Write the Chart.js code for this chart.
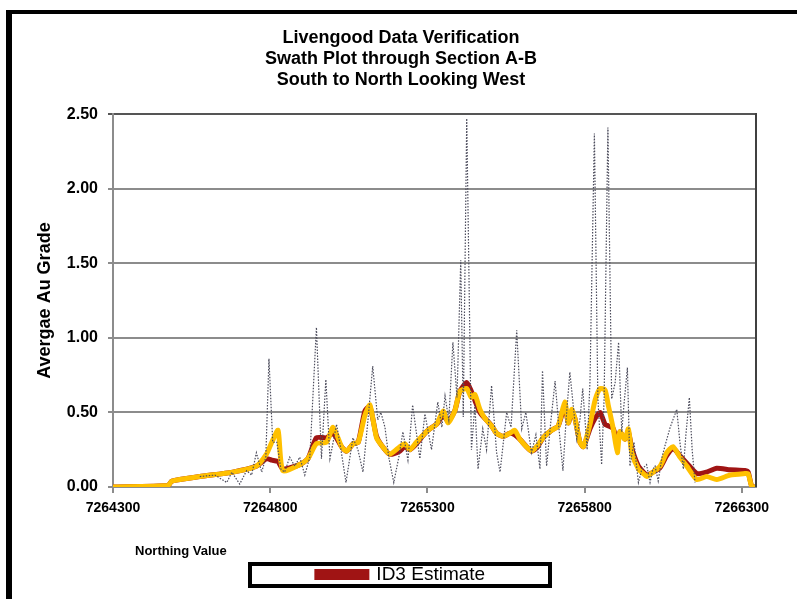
<!DOCTYPE html>
<html>
<head>
<meta charset="utf-8">
<script src="https://cdn.jsdelivr.net/npm/chart.js@4.4.1/dist/chart.umd.min.js"></script>
<style>
  html, body { margin: 0; padding: 0; background: #fff; overflow: hidden; }
  #wrap { position: relative; width: 797px; height: 599px; }
  #frame { position: absolute; left: 6px; top: 10px; width: 900px; height: 700px;
           border-left: 6px solid #000; border-top: 4px solid #000; pointer-events: none; }
</style>
</head>
<body>
<div id="wrap">
  <canvas id="chart" width="797" height="599"></canvas>
  <div id="frame"></div>
</div>
<script>
// Northing positions for the block model estimates
const estNorthing = [7264300, 7264475, 7264487, 7264576, 7264681, 7264756, 7264788, 7264805, 7264825, 7264840,
  7264894, 7264920, 7264947, 7264979, 7265000, 7265027, 7265043, 7265064, 7265080, 7265101,
  7265117, 7265138, 7265154, 7265180, 7265212, 7265228, 7265244, 7265265, 7265292, 7265308,
  7265329, 7265350, 7265366, 7265387, 7265403, 7265425, 7265440, 7265451, 7265467, 7265483,
  7265504, 7265520, 7265541, 7265562, 7265578, 7265594, 7265615, 7265631, 7265647, 7265668,
  7265695, 7265716, 7265737, 7265748, 7265759, 7265769, 7265785, 7265796, 7265817, 7265833,
  7265849, 7265865, 7265875, 7265891, 7265904, 7265912, 7265928, 7265939, 7265950, 7265971,
  7265987, 7265997, 7266018, 7266040, 7266061, 7266081, 7266103, 7266125, 7266157, 7266188,
  7266220, 7266263, 7266310, 7266320, 7266332, 7266345];

const id3Grade = [0.00, 0.01, 0.04, 0.07, 0.10, 0.14, 0.19, 0.18, 0.17, 0.12,
  0.15, 0.19, 0.33, 0.33, 0.36, 0.27, 0.24, 0.29, 0.30, 0.51,
  0.54, 0.34, 0.28, 0.22, 0.24, 0.27, 0.25, 0.29, 0.36, 0.39,
  0.42, 0.48, 0.44, 0.51, 0.64, 0.70, 0.64, 0.58, 0.50, 0.46,
  0.41, 0.36, 0.34, 0.36, 0.35, 0.32, 0.27, 0.24, 0.26, 0.33,
  0.38, 0.41, 0.54, 0.43, 0.50, 0.46, 0.30, 0.27, 0.39, 0.46,
  0.50, 0.42, 0.41, 0.39, 0.30, 0.37, 0.32, 0.37, 0.26, 0.14,
  0.10, 0.08, 0.10, 0.13, 0.21, 0.26, 0.21, 0.16, 0.09, 0.10,
  0.125, 0.115, 0.11, 0.10, 0.00, 0.00];

const okGrade = [0.00, 0.01, 0.04, 0.07, 0.10, 0.14, 0.22, 0.30, 0.38, 0.11,
  0.15, 0.19, 0.29, 0.30, 0.40, 0.27, 0.24, 0.29, 0.30, 0.48,
  0.55, 0.33, 0.28, 0.22, 0.27, 0.29, 0.25, 0.30, 0.36, 0.39,
  0.42, 0.51, 0.43, 0.51, 0.64, 0.66, 0.60, 0.62, 0.52, 0.46,
  0.41, 0.36, 0.34, 0.36, 0.38, 0.32, 0.27, 0.24, 0.27, 0.33,
  0.38, 0.41, 0.57, 0.43, 0.52, 0.46, 0.30, 0.27, 0.42, 0.58,
  0.66, 0.65, 0.55, 0.39, 0.23, 0.37, 0.32, 0.39, 0.23, 0.12,
  0.09, 0.07, 0.10, 0.14, 0.23, 0.27, 0.20, 0.14, 0.05, 0.07,
  0.05, 0.08, 0.09, 0.09, 0.00, 0.00];

// Composite averages (dotted)
const compNorthing = [7264576, 7264624, 7264662, 7264678, 7264703, 7264725, 7264741, 7264756, 7264773, 7264786,
  7264796, 7264808, 7264821, 7264834, 7264846, 7264862, 7264878, 7264894, 7264910, 7264926,
  7264947, 7264963, 7264977, 7264990, 7265011, 7265025, 7265041, 7265063, 7265079, 7265095,
  7265111, 7265126, 7265142, 7265152, 7265165, 7265177, 7265193, 7265209, 7265222, 7265238,
  7265253, 7265276, 7265292, 7265313, 7265333, 7265346, 7265356, 7265368, 7265381, 7265394,
  7265406, 7265414, 7265425, 7265440, 7265451, 7265461, 7265476, 7265488, 7265504, 7265520,
  7265531, 7265552, 7265566, 7265584, 7265600, 7265613, 7265631, 7265645, 7265658, 7265666,
  7265679, 7265693, 7265706, 7265718, 7265731, 7265741, 7265753, 7265766, 7265775, 7265785,
  7265794, 7265808, 7265817, 7265831, 7265842, 7265854, 7265862, 7265874, 7265886, 7265897,
  7265908, 7265918, 7265925, 7265936, 7265944, 7265957, 7265971, 7265982, 7265997, 7266008,
  7266017, 7266024, 7266034, 7266046, 7266056, 7266072, 7266093, 7266103, 7266114, 7266122,
  7266133, 7266142, 7266151];

const compGrade = [0.07, 0.08, 0.03, 0.10, 0.02, 0.11, 0.08, 0.23, 0.10, 0.20,
  0.86, 0.30, 0.30, 0.12, 0.10, 0.20, 0.14, 0.20, 0.08, 0.20,
  1.07, 0.19, 0.72, 0.19, 0.42, 0.25, 0.03, 0.33, 0.25, 0.10,
  0.45, 0.81, 0.45, 0.50, 0.40, 0.20, 0.03, 0.20, 0.37, 0.18,
  0.55, 0.19, 0.49, 0.25, 0.57, 0.40, 0.61, 0.45, 0.97, 0.60,
  1.52, 0.47, 2.47, 0.25, 0.55, 0.12, 0.39, 0.25, 0.68, 0.23,
  0.10, 0.50, 0.40, 1.05, 0.39, 0.50, 0.23, 0.35, 0.12, 0.78,
  0.14, 0.45, 0.71, 0.40, 0.11, 0.45, 0.77, 0.50, 0.32, 0.45,
  0.66, 0.25, 0.71, 2.37, 0.60, 0.15, 0.60, 2.41, 0.59, 0.70,
  0.97, 0.37, 0.55, 0.80, 0.14, 0.30, 0.03, 0.12, 0.15, 0.03,
  0.12, 0.14, 0.04, 0.20, 0.28, 0.40, 0.52, 0.30, 0.12, 0.35,
  0.60, 0.25, 0.03];

const xTicks = [7264300, 7264800, 7265300, 7265800, 7266300];
const yTicks = [0, 0.5, 1.0, 1.5, 2.0, 2.5];

const narrow = "'Liberation Sans Narrow', 'Arial Narrow', 'Liberation Sans', Arial, sans-serif";

function pts(xs, ys) {
  return xs.map((x, i) => ({ x: x, y: ys[i] }));
}

const extras = {
  id: 'extras',
  afterDraw(chart) {
    const ctx = chart.ctx;
    const a = chart.chartArea;
    ctx.save();
    // plot area right edge
    ctx.strokeStyle = '#404040';
    ctx.lineWidth = 2;
    ctx.beginPath();
    ctx.moveTo(a.right, a.top - 1);
    ctx.lineTo(a.right, a.bottom);
    ctx.stroke();
    // x axis name
    ctx.fillStyle = '#000';
    ctx.font = 'bold 13px ' + narrow;
    ctx.textBaseline = 'middle';
    ctx.textAlign = 'left';
    ctx.fillText('Northing Value', 135, 551);
    // legend frame
    ctx.lineWidth = 4;
    ctx.strokeStyle = '#000';
    ctx.strokeRect(250, 564, 300, 22);
    ctx.restore();
  }
};

new Chart(document.getElementById('chart'), {
  type: 'line',
  data: {
    datasets: [
      {
        label: 'Composites',
        data: pts(compNorthing, compGrade),
        borderColor: '#4c4c5c',
        borderWidth: 1.2,
        borderDash: [1.5, 1.5],
        pointRadius: 0,
        fill: false,
        tension: 0,
        order: 0
      },
      {
        label: 'OK Estimate',
        data: pts(estNorthing, okGrade),
        borderColor: '#ffc000',
        backgroundColor: '#ffc000',
        borderWidth: 5,
        pointRadius: 0,
        fill: false,
        tension: 0.2,
        order: 1
      },
      {
        label: 'ID3 Estimate',
        data: pts(estNorthing, id3Grade),
        borderColor: '#a01414',
        backgroundColor: '#a01414',
        borderWidth: 5,
        pointRadius: 0,
        fill: false,
        tension: 0.2,
        order: 2
      }
    ]
  },
  options: {
    responsive: false,
    animation: false,
    layout: { padding: { top: 18, left: 46, right: 41, bottom: 5 } },
    plugins: {
      title: {
        display: true,
        text: ['Livengood Data Verification', 'Swath Plot through Section A-B', 'South to North Looking West'],
        color: '#000',
        font: { family: narrow, size: 18, weight: 'bold', lineHeight: 1.15 },
        padding: { top: 10, bottom: 24 }
      },
      legend: {
        position: 'bottom',
        labels: {
          filter: item => item.text === 'ID3 Estimate',
          color: '#000',
          boxWidth: 50,
          boxHeight: 6,
          padding: 10,
          font: { family: narrow, size: 19 }
        }
      },
      tooltip: { enabled: false }
    },
    scales: {
      x: {
        type: 'linear',
        min: 7264300,
        max: 7266345,
        afterBuildTicks: scale => { scale.ticks = xTicks.map(v => ({ value: v })); },
        afterFit: scale => { scale.height = 68; },
        grid: { drawOnChartArea: false, drawTicks: true, tickLength: 6, color: '#8c8c8c', lineWidth: 2 },
        border: { color: '#8c8c8c', width: 2 },
        ticks: {
          color: '#000',
          padding: 7,
          maxRotation: 0,
          font: { family: narrow, size: 14, weight: 'bold' },
          callback: v => String(v)
        }
      },
      y: {
        min: 0,
        max: 2.5,
        afterBuildTicks: scale => { scale.ticks = yTicks.map(v => ({ value: v })); },
        afterFit: scale => { scale.width = 67; },
        grid: {
          color: ctx => (ctx.tick && ctx.tick.value === 2.5) ? '#555555' : '#8c8c8c',
          lineWidth: 2,
          tickLength: 5
        },
        border: { color: '#8c8c8c', width: 2 },
        title: {
          display: true,
          text: 'Avergae Au Grade',
          color: '#000',
          font: { family: narrow, size: 18, weight: 'bold' },
          padding: { top: -12, bottom: 0 }
        },
        ticks: {
          color: '#000',
          padding: 10,
          font: { family: narrow, size: 16, weight: 'bold' },
          callback: v => v.toFixed(2)
        }
      }
    }
  },
  plugins: [extras]
});
</script>
</body>
</html>
